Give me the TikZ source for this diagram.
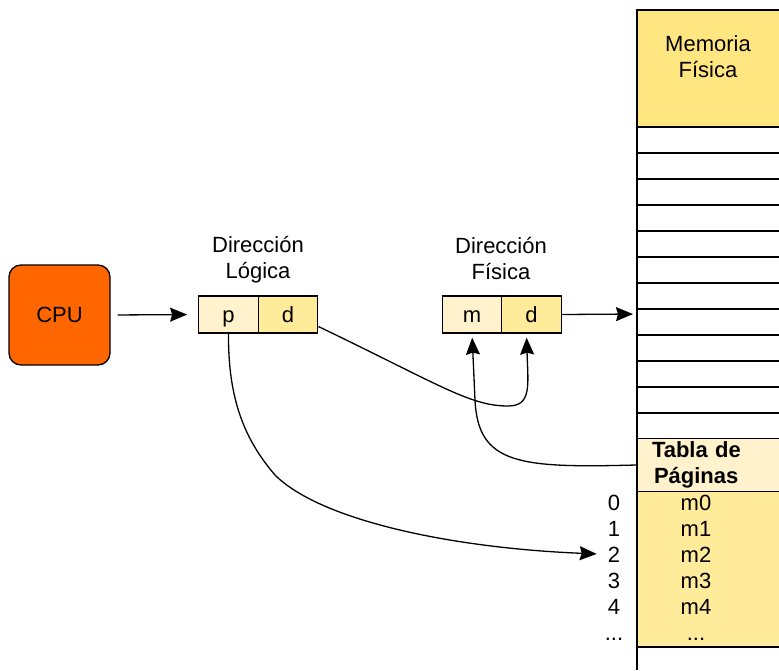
\documentclass[tikz,border=0pt]{standalone}
\usepackage{fontspec}
\setmainfont{Liberation Sans}
\usetikzlibrary{arrows.meta}
\definecolor{cpuorange}{HTML}{FF6600}
\definecolor{lightyellow}{HTML}{FFF2CC}
\definecolor{memyellow}{HTML}{FFE680}
\definecolor{cellyellow}{HTML}{FFEB99}
\tikzset{
  txt/.style={font=\fontsize{22}{26}\selectfont},
  cell/.style={draw, line width=1.3pt, minimum width=59.5pt, minimum height=37pt, inner sep=0pt,
               text height=16pt, text depth=1pt, txt},
  link/.style={-{Stealth[length=17pt,width=14pt,inset=2pt]}, line width=1.3pt},
}

\begin{document}
\begin{tikzpicture}[x=1pt, y=-1pt]
  \useasboundingbox (0,0) rectangle (779,670);
  \clip (0,0) rectangle (779,670);

  % memoria fisica
  \fill[memyellow] (637,10) rectangle (790,127);
  \fill[cellyellow] (637,491) rectangle (790,647);
  \draw[line width=1.3pt] (790,10) -- (637,10) -- (637,670);
  \foreach \y in {127,153,...,413}
    \draw[line width=1.3pt] (637,\y) -- (790,\y);
  \draw[line width=1.3pt] (637,647) -- (790,647);
  \node[txt, align=center] (mem) at (708,57) {Memoria\\Física};
  \coordinate (memin) at (637,314);

  % tabla de paginas
  \node[draw, line width=1.3pt, fill=lightyellow, minimum width=153pt, minimum height=52pt,
        text width=123pt, inner xsep=15pt, align=left, txt, font=\fontsize{22}{26}\selectfont\bfseries]
        (tabla) at (713.5,465) {Tabla de\\\hspace*{2pt}Páginas};
  \foreach \i in {0,...,4} {
    \node[txt, anchor=base, inner sep=1pt] (idx\i) at (614, 510+26*\i) {\i};
    \node[txt, anchor=base, inner sep=1pt] (ent\i) at (696, 510+26*\i) {m\i};
  }
  \node[txt, anchor=base, inner sep=1pt] (idx5) at (614,640) {...};
  \node[txt, anchor=base, inner sep=1pt] (ent5) at (696,640) {...};

  % cpu y direcciones
  \node[draw, line width=1.3pt, fill=cpuorange, rounded corners=12pt,
        minimum width=101pt, minimum height=100pt, txt] (cpu) at (59.5,315) {CPU};
  \node[cell, fill=lightyellow] (p) at (228.5,314.5) {p};
  \node[cell, fill=cellyellow] (ld) at (288,314.5) {d};
  \node[cell, fill=lightyellow] (m) at (472,314.5) {m};
  \node[cell, fill=cellyellow] (fd) at (531.5,314.5) {d};
  \node[txt, align=center] (llog) at (258,260) {Dirección\\Lógica};
  \node[txt, align=center] (lfis) at (501,259) {Dirección\\Física};

  % flechas
  \draw[link, shorten <=7pt, shorten >=11pt] (cpu.east) -- (p.west);
  \draw[link, shorten >=4pt] (fd.east) -- (memin);
  \draw[link, shorten >=4pt] ([yshift=-12pt]ld.east) .. controls (440,385) and (470,406) .. (508,406)
    .. controls (532,406) and (528,385) .. ([xshift=-5pt]fd.south);
  \draw[link, shorten >=4pt] (tabla.west) .. controls (520,468) and (478,465) .. (475,400) -- (m.south);
  \draw[link, shorten >=10pt] (p.south) .. controls (228,400) and (245,440) .. (275,475)
    .. controls (320,520) and (450,548) .. (idx2.west);
\end{tikzpicture}
\end{document}
